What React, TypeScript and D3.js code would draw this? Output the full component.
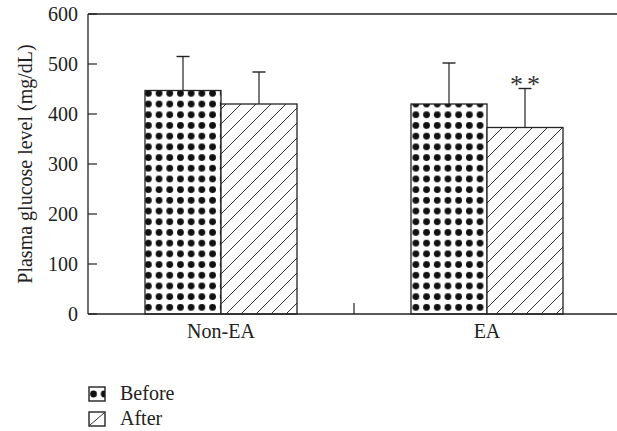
import React from "react";
import * as d3 from "d3";

const categories = ["Non-EA", "EA"];
const seriesNames = ["Before", "After"];
const beforeMeans = [447, 420];
const beforeErr = [68, 82];
const afterMeans = [420, 373];
const afterErr = [64, 78];
const yTicks = [0, 100, 200, 300, 400, 500, 600];
const significance = ["", "**"];

const W = 617;
const H = 431;
const FONT = "'Liberation Serif', 'Times New Roman', serif";
const FS = 20;

export default function App() {
  const left = 88, right = 620, top = 14, bottom = 314;
  const x = d3.scaleBand<string>().domain(categories).range([left, right]).paddingInner(0).paddingOuter(0);
  const y = d3.scaleLinear().domain([0, 600]).range([bottom, top]);
  const inner = d3.scaleBand<string>().domain(seriesNames).range([0, 152]);
  const groupOffset = (x.bandwidth() - 152) / 2;
  const fills = ["url(#dots)", "url(#hatch)"];
  const data = [
    { means: beforeMeans, errs: beforeErr },
    { means: afterMeans, errs: afterErr },
  ];
  const stroke = "#222";

  return (
    <svg width={W} height={H} style={{ position: "absolute", left: 0, top: 0, background: "#fff" }} fontFamily={FONT}>
      <defs>
        <pattern id="dots" patternUnits="userSpaceOnUse" width={10.7} height={10.7} x={143} y={88}>
          <rect width={10.7} height={10.7} fill="#fff" />
          <circle cx={5.35} cy={5.35} r={3.4} fill="#111" />
        </pattern>
        <pattern id="hatch" patternUnits="userSpaceOnUse" width={15} height={15}>
          <rect width={15} height={15} fill="#fff" />
          <path d="M-1,1 L1,-1 M0,15 L15,0 M14,16 L16,14" stroke="#333" strokeWidth={1} />
        </pattern>
        <pattern id="dotsLeg" patternUnits="userSpaceOnUse" width={10.7} height={14} x={88} y={387}>
          <rect width={10.7} height={14} fill="#fff" />
          <circle cx={5.5} cy={7} r={3.4} fill="#111" />
        </pattern>
        <pattern id="hatchLeg" patternUnits="userSpaceOnUse" width={16} height={14} x={89} y={412}>
          <rect width={16} height={14} fill="#fff" />
          <path d="M1,13 L15,1" stroke="#333" strokeWidth={1} />
        </pattern>
      </defs>

      {/* frame lines */}
      <line x1={left} x2={617} y1={top} y2={top} stroke={stroke} strokeWidth={1.3} />
      <line x1={left} x2={left} y1={top} y2={bottom} stroke={stroke} strokeWidth={1.3} />

      {/* y ticks */}
      {yTicks.map((t) => (
        <g key={t}>
          <line x1={left} x2={left + 9} y1={y(t)} y2={y(t)} stroke={stroke} strokeWidth={1.2} />
          <text x={left - 10} y={y(t)} dy="0.35em" textAnchor="end" fontSize={FS} fill="#222">
            {t}
          </text>
        </g>
      ))}
      <text transform={`translate(26,${(top + bottom) / 2}) rotate(-90)`} textAnchor="middle" fontSize={FS} fill="#222" dy="0.32em">
        Plasma glucose level (mg/dL)
      </text>

      {/* bars */}
      {categories.map((c, ci) =>
        data.map((s, si) => {
          const bx = (x(c) as number) + groupOffset + (inner(seriesNames[si]) as number);
          const bw = inner.bandwidth();
          const cx = bx + bw / 2;
          const yv = y(s.means[ci]);
          const ye = y(s.means[ci] + s.errs[ci]);
          return (
            <g key={c + si}>
              <line x1={cx} x2={cx} y1={yv} y2={ye} stroke={stroke} strokeWidth={1.2} />
              <line x1={cx - 6.5} x2={cx + 6.5} y1={ye} y2={ye} stroke={stroke} strokeWidth={1.4} />
              <rect x={bx} y={yv} width={bw} height={bottom - yv} fill={fills[si]} stroke={stroke} strokeWidth={1.3} />
            </g>
          );
        })
      )}

      {/* significance */}
      {categories.map((c, ci) => {
        const sig = significance[ci];
        if (!sig) return null;
        const bx = (x(c) as number) + groupOffset + (inner("After") as number) + inner.bandwidth() / 2;
        const ye = y(afterMeans[ci] + afterErr[ci]);
        return (
          <g key={"sig" + ci}>
            {sig.split("").map((ch, k) => (
              <text key={k} x={bx - 8.5 + k * 17} y={ye} dy={4} textAnchor="middle" fontSize={26} fill="#333">
                {ch}
              </text>
            ))}
          </g>
        );
      })}

      {/* x axis */}
      <line x1={left} x2={617} y1={bottom} y2={bottom} stroke={stroke} strokeWidth={1.3} />
      <line x1={x("EA")} x2={x("EA")} y1={bottom} y2={bottom - 11} stroke={stroke} strokeWidth={1.2} />
      {categories.map((c) => (
        <text key={c} x={(x(c) as number) + x.bandwidth() / 2} y={338} textAnchor="middle" fontSize={FS} fill="#222">
          {c}
        </text>
      ))}

      {/* legend */}
      {seriesNames.map((s, i) => (
        <g key={s}>
          <rect x={89} y={387 + i * 25} width={16} height={14} fill={i === 0 ? "url(#dotsLeg)" : "url(#hatchLeg)"} stroke={stroke} strokeWidth={1.4} />
          <text x={120} y={400 + i * 25} fontSize={FS} fill="#222">
            {s}
          </text>
        </g>
      ))}
    </svg>
  );
}
